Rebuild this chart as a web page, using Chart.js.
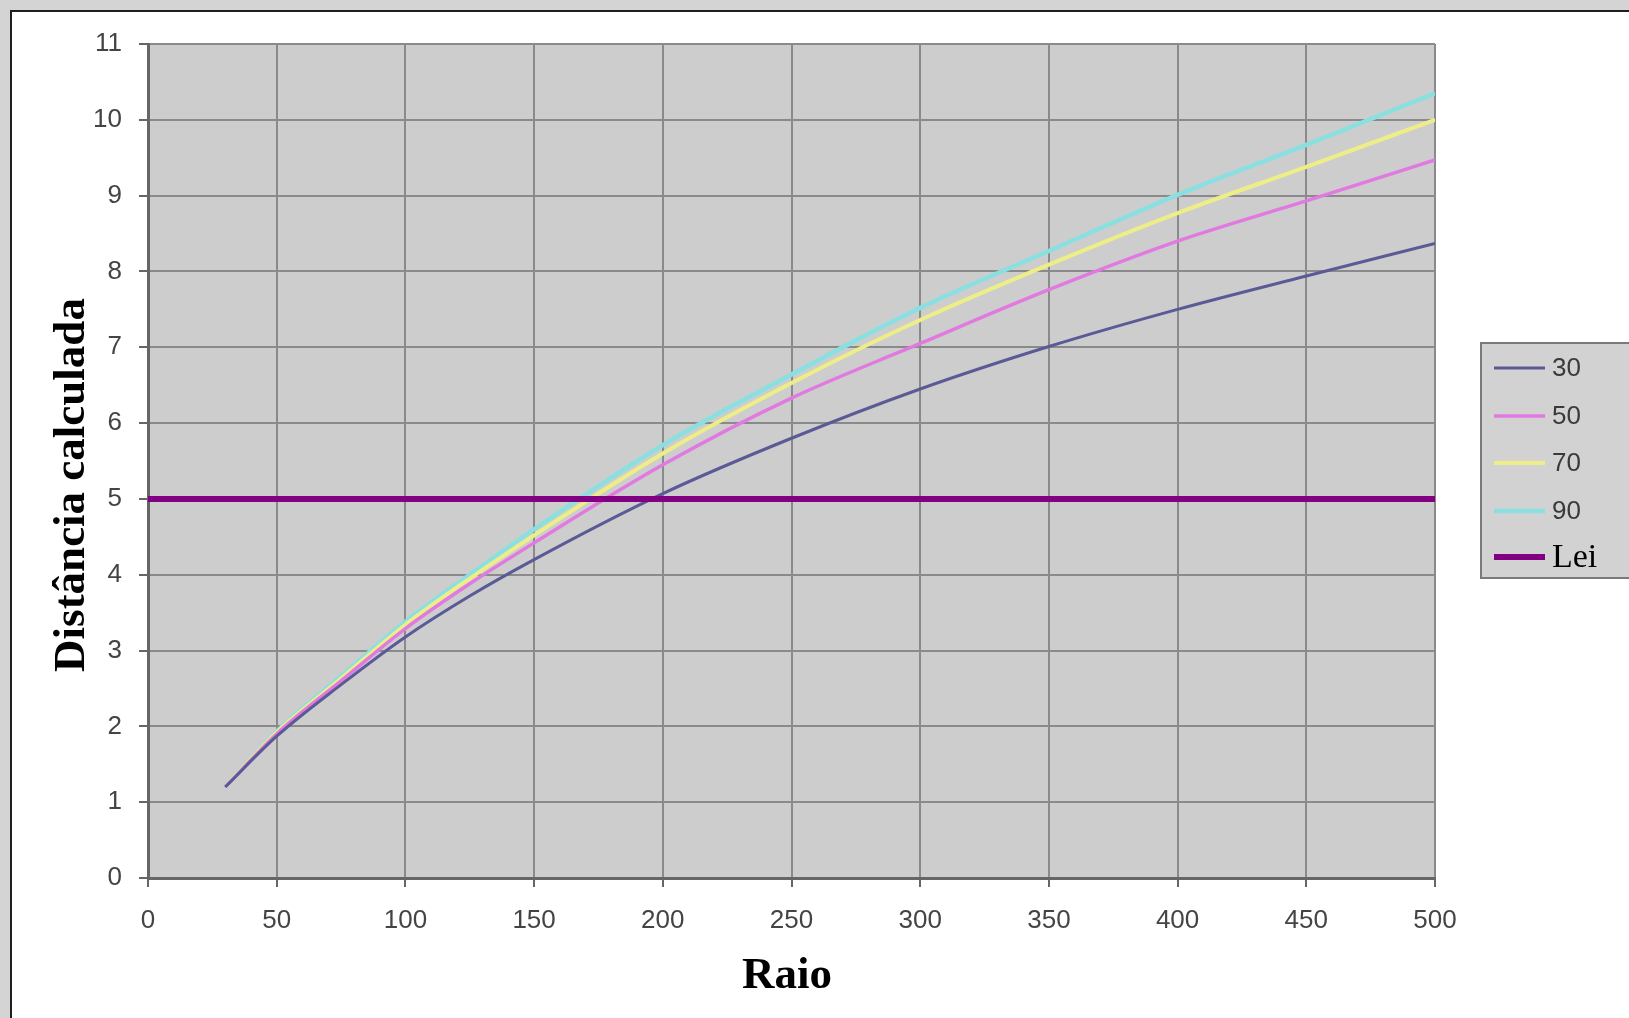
<!DOCTYPE html>
<html>
<head>
<meta charset="utf-8">
<script src="https://cdn.jsdelivr.net/npm/chart.js@4.4.1/dist/chart.umd.min.js"></script>
<style>
  html, body { margin: 0; padding: 0; background: #d4d4d4; overflow: hidden; }
  #frame {
    position: absolute; left: 10px; top: 10px; width: 1700px; height: 1100px;
    background: #fff; border-left: 2px solid #1e1e1e; border-top: 2px solid #1e1e1e;
  }
  #raio-chart { position: absolute; left: 0; top: 0; }
</style>
</head>
<body>
<div id="frame"></div>
<canvas id="raio-chart" width="1629" height="1018"></canvas>
<script>
let raioValues = [30, 50, 75, 100, 125, 150, 200, 250, 300, 350, 400, 450, 500];
let serie30 = [1.2, 1.87, 2.55, 3.18, 3.72, 4.2, 5.07, 5.8, 6.45, 7.01, 7.5, 7.94, 8.37];
let serie50 = [1.2, 1.9, 2.6, 3.29, 3.88, 4.42, 5.45, 6.33, 7.05, 7.76, 8.4, 8.93, 9.47];
let serie70 = [1.2, 1.92, 2.63, 3.34, 3.95, 4.52, 5.6, 6.53, 7.36, 8.09, 8.77, 9.38, 10.0];
let serie90 = [1.2, 1.93, 2.66, 3.38, 4.0, 4.6, 5.71, 6.64, 7.52, 8.27, 9.01, 9.67, 10.35];
let leiRaio = [0, 500];
let leiValues = [5, 5];
let seriesLabels = ["30", "50", "70", "90", "Lei"];
let xTitle = "Raio";
let yTitle = "Distância calculada";

const toPoints = (xs, ys) => xs.map((x, i) => ({ x: x, y: ys[i] }));

const curve = (label, values, color, width) => ({
  label: label,
  data: toPoints(raioValues, values),
  borderColor: color,
  borderWidth: width,
  pointRadius: 0,
  cubicInterpolationMode: "monotone",
  fill: false,
});

// plot background, like the old excel grey
const plotBackground = {
  id: "plotBackground",
  beforeDraw(chart) {
    const { ctx, chartArea: a } = chart;
    ctx.save();
    ctx.fillStyle = "#cdcdcd";
    ctx.fillRect(a.left, a.top, a.right - a.left, a.bottom - a.top);
    ctx.restore();
  },
};

// axis titles and the boxed legend on the right
const titlesAndLegend = {
  id: "titlesAndLegend",
  afterDraw(chart) {
    const ctx = chart.ctx;
    ctx.save();
    ctx.fillStyle = "#000";
    ctx.font = "bold 45px 'Liberation Serif'";
    ctx.textAlign = "center";
    ctx.textBaseline = "middle";
    ctx.fillText(xTitle, 787, 976);
    ctx.translate(72, 485);
    ctx.rotate(-Math.PI / 2);
    ctx.fillText(yTitle, 0, 0);
    ctx.restore();

    ctx.save();
    ctx.fillStyle = "#d2d2d2";
    ctx.fillRect(1481, 343, 200, 235);
    ctx.strokeStyle = "#7a7a7a";
    ctx.lineWidth = 2;
    ctx.strokeRect(1481, 343, 200, 235);
    const rows = [368, 416, 463, 511, 557];
    chart.data.datasets.forEach((ds, i) => {
      ctx.strokeStyle = ds.borderColor;
      ctx.lineWidth = ds.borderWidth;
      ctx.beginPath();
      ctx.moveTo(1494, rows[i]);
      ctx.lineTo(1545, rows[i]);
      ctx.stroke();
      ctx.textBaseline = "middle";
      if (ds.label === "Lei") {
        ctx.fillStyle = "#000";
        ctx.font = "34px 'Liberation Serif'";
      } else {
        ctx.fillStyle = "#3a3a3a";
        ctx.font = "26px 'Liberation Sans'";
      }
      ctx.fillText(ds.label, 1552, rows[i] + 1);
    });
    ctx.restore();
  },
};

const CanvasChart = document.getElementById("raio-chart");

new Chart(CanvasChart, {
  type: "line",
  data: {
    datasets: [
      curve(seriesLabels[0], serie30, "#5a5a96", 3),
      curve(seriesLabels[1], serie50, "#e07ae0", 3.5),
      curve(seriesLabels[2], serie70, "#eeee88", 4),
      curve(seriesLabels[3], serie90, "#8ae0e0", 4.5),
      {
        label: seriesLabels[4],
        data: toPoints(leiRaio, leiValues),
        borderColor: "#820082",
        borderWidth: 6,
        pointRadius: 0,
        order: -1,
      },
    ],
  },
  options: {
    responsive: false,
    animation: false,
    devicePixelRatio: 1,
    plugins: {
      legend: { display: false },
      tooltip: { enabled: false },
    },
    layout: {
      padding: { top: 44, right: 194, left: 0, bottom: 0 },
    },
    scales: {
      x: {
        type: "linear",
        min: 0,
        max: 500,
        afterFit: (scale) => { scale.height = 140; },
        ticks: {
          stepSize: 50,
          color: "#444",
          font: { family: "Liberation Sans", size: 26 },
          padding: 18,
          maxRotation: 0,
        },
        grid: {
          color: "#8a8a8a",
          lineWidth: 2,
          tickLength: 9,
          tickColor: "#666",
        },
        border: { color: "#666", width: 3 },
      },
      y: {
        min: 0,
        max: 11,
        afterFit: (scale) => { scale.width = 148; },
        ticks: {
          stepSize: 1,
          color: "#444",
          font: { family: "Liberation Sans", size: 26 },
          padding: 17,
        },
        grid: {
          color: "#8a8a8a",
          lineWidth: 2,
          tickLength: 9,
          tickColor: "#666",
        },
        border: { color: "#666", width: 3 },
      },
    },
  },
  plugins: [plotBackground, titlesAndLegend],
});
</script>
</body>
</html>
